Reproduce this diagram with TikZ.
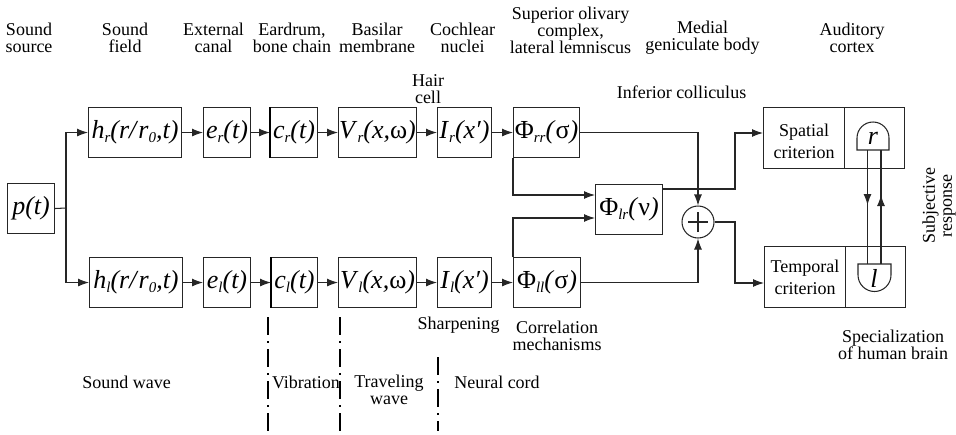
\documentclass[tikz,border=0pt]{standalone}
\usepackage{fontspec}
\setmainfont{Liberation Serif}
\usetikzlibrary{arrows.meta}
\newcommand{\fa}[2]{\textit{#1}{\fontsize{15}{15}\selectfont\raisebox{-3.5pt}{\textit{#2}}}}
\newcommand{\pl}{\textit{(}}
\newcommand{\pr}{\textit{)}}
\tikzset{
 x=1pt,y=-1pt,
 wire/.style={line width=1.05pt,draw=black!85},
 arr/.style={wire,-{Latex[length=11pt,width=8pt]}},
 blk/.style={draw=black!85,line width=1.05pt,inner sep=0pt,font=\fontsize{26}{26}\selectfont,anchor=north west},
 captxt/.style={inner sep=0pt,align=center,font=\fontsize{18}{17}\selectfont},
 brk/.style={line width=1.5pt,dash pattern=on 18pt off 6pt on 2pt off 6pt},
}
\begin{document}
\begin{tikzpicture}
\useasboundingbox (0,0) rectangle (956,434);
% captions
\node[captxt] (c1) at (29,38) {Sound\\source};
\node[captxt] (c2) at (125,38) {Sound\\field};
\node[captxt] (c3) at (213.5,38) {External\\canal};
\node[captxt] (c4) at (292,38) {Eardrum,\\bone chain};
\node[captxt] (c5) at (377,38) {Basilar\\membrane};
\node[captxt] (c6) at (462.5,38) {Cochlear\\nuclei};
\node[captxt] (c7) at (570.5,30) {Superior olivary\\complex,\\lateral lemniscus};
\node[captxt] (c8) at (702.5,38) {Medial\\geniculate body};
\node[captxt] (c9) at (852,38) {Auditory\\cortex};
\node[captxt] (c10) at (428,89) {Hair\\cell};
\node[captxt] (c11) at (681.5,92) {Inferior colliculus};
\node[captxt] (c12) at (458.5,325) {Sharpening};
\node[captxt] (c13) at (557,336) {Correlation\\mechanisms};
\node[captxt] (c14) at (893,345) {Specialization\\of human brain};
\node[captxt] (c15) at (126.5,382) {Sound wave};
\node[captxt] (c16) at (306,382) {Vibration};
\node[captxt] (c17) at (389,390) {Traveling\\wave};
\node[captxt] (c18) at (497,382) {Neural cord};
\node[captxt,rotate=90] (c19) at (939,206) {Subjective\\response};
% blocks
\node[blk,minimum width=47pt,minimum height=50pt] (p) at (7,183) {\textit{p(t)}};
\node[blk,minimum width=93pt,minimum height=50pt] (hr) at (88,107) {\fa{h}{r}\textit{(r/}\fa{r}{0}\textit{,t)}};
\node[blk,minimum width=47pt,minimum height=50pt] (er) at (203,107) {\fa{e}{r}\textit{(t)}};
\node[blk,minimum width=47pt,minimum height=50pt] (cr) at (270,107) {\fa{c}{r}\textit{(t)}};
\node[blk,minimum width=78pt,minimum height=50pt] (vr) at (338,107) {\fa{V}{r}\textit{(x,}ω\pr};
\node[blk,minimum width=54pt,minimum height=50pt] (ir) at (437,107) {\fa{I}{r}\textit{(x′)}};
\node[blk,minimum width=66pt,minimum height=50pt] (prr) at (513,107) {Φ\fa{}{rr}\pl σ\pr};
\node[blk,minimum width=93pt,minimum height=50pt] (hl) at (89,257) {\fa{h}{l}\textit{(r/}\fa{r}{0}\textit{,t)}};
\node[blk,minimum width=47pt,minimum height=50pt] (el) at (203,257) {\fa{e}{l}\textit{(t)}};
\node[blk,minimum width=46pt,minimum height=50pt] (cl) at (271,257) {\fa{c}{l}\textit{(t)}};
\node[blk,minimum width=78pt,minimum height=50pt] (vl) at (338,257) {\fa{V}{l}\textit{(x,}ω\pr};
\node[blk,minimum width=54pt,minimum height=50pt] (il) at (437,257) {\fa{I}{l}\textit{(x′)}};
\node[blk,minimum width=67pt,minimum height=50pt] (pll) at (513,257) {Φ\fa{}{ll}\pl σ\pr};
\node[blk,minimum width=67pt,minimum height=50pt] (plr) at (595,184) {Φ\fa{}{lr}\pl ν\pr};
\node[draw=black!85,line width=1.05pt,circle,minimum size=32pt,inner sep=0pt] (sum) at (698,222) {};
\draw[wire] ([xshift=-10pt]sum.center) -- ([xshift=10pt]sum.center) ([yshift=-10pt]sum.center) -- ([yshift=10pt]sum.center);
\node[blk,font=\fontsize{18}{22}\selectfont,align=center,minimum width=81pt,minimum height=61pt] (sc) at (763,107) {\rule{0pt}{20pt}Spatial\\criterion};
\node[blk,minimum width=60pt,minimum height=61pt] (sb) at (844,107) {};
\node[blk,font=\fontsize{18}{22}\selectfont,align=center,minimum width=81pt,minimum height=61pt] (tc) at (764,246) {Temporal\\criterion};
\node[blk,minimum width=60pt,minimum height=61pt] (tb) at (845,246) {};
% hemispheres
\draw[wire] (857,150) -- (857,138) arc[start angle=180,end angle=360,radius=16] -- (889,150) -- cycle;
\draw[wire] (858,264) -- (858,275) arc[start angle=180,end angle=0,radius=16.5] -- (891,264) -- cycle;
\node[inner sep=0pt,font=\fontsize{26}{26}\selectfont\itshape] (rl) at (873,138) {r};
\node[inner sep=0pt,font=\fontsize{26}{26}\selectfont\itshape] (ll) at (874,278) {l};
\coordinate (rd) at (867.5,150); \coordinate (ru) at (881,150);
\coordinate (ld) at (867.5,264); \coordinate (lu) at (881,264);
\draw[wire] (rd) -- (ld);
\draw[wire] (ru) -- (lu);
\draw[arr] (rd) -- (867.5,205);
\draw[arr] (lu) -- (881,195);
% thick edges of c blocks
\draw[line width=1.8pt] (cr.north west) -- (cr.south west);
\draw[line width=1.8pt] (cl.north west) -- (cl.south west);
% connectors
\coordinate (j) at (66,208);
\draw[wire] (p.east) -- (j);
\draw[arr] (j) |- (hr.west);
\draw[arr] (j) |- (hl.west);
\foreach \a/\b in {hr/er,er/cr,cr/vr,vr/ir,ir/prr,hl/el,el/cl,cl/vl,vl/il,il/pll}{\draw[arr] (\a.east) -- (\b.west);}
\draw[arr] (prr.east) -| (sum.north);
\draw[arr] (pll.east) -| (sum.south);
\draw[arr] (prr.south west) |- (plr.west |- 0,195);
\draw[arr] (pll.north west) |- (plr.west |- 0,218);
\draw[arr] (plr.east |- 0,189) -| (735,133) -- (sc.west |- 0,133);
\draw[arr] (sum.east) -| (735,283) -- (tc.west |- 0,283);
% dividers
\coordinate (d1a) at (268,317); \coordinate (d1b) at (268,431);
\coordinate (d2a) at (340,317); \coordinate (d2b) at (340,431);
\coordinate (d3a) at (438,357); \coordinate (d3b) at (438,431);
\draw[brk] (d1a) -- (d1b);
\draw[brk] (d2a) -- (d2b);
\draw[brk] (d3a) -- (d3b);
\end{tikzpicture}
\end{document}
